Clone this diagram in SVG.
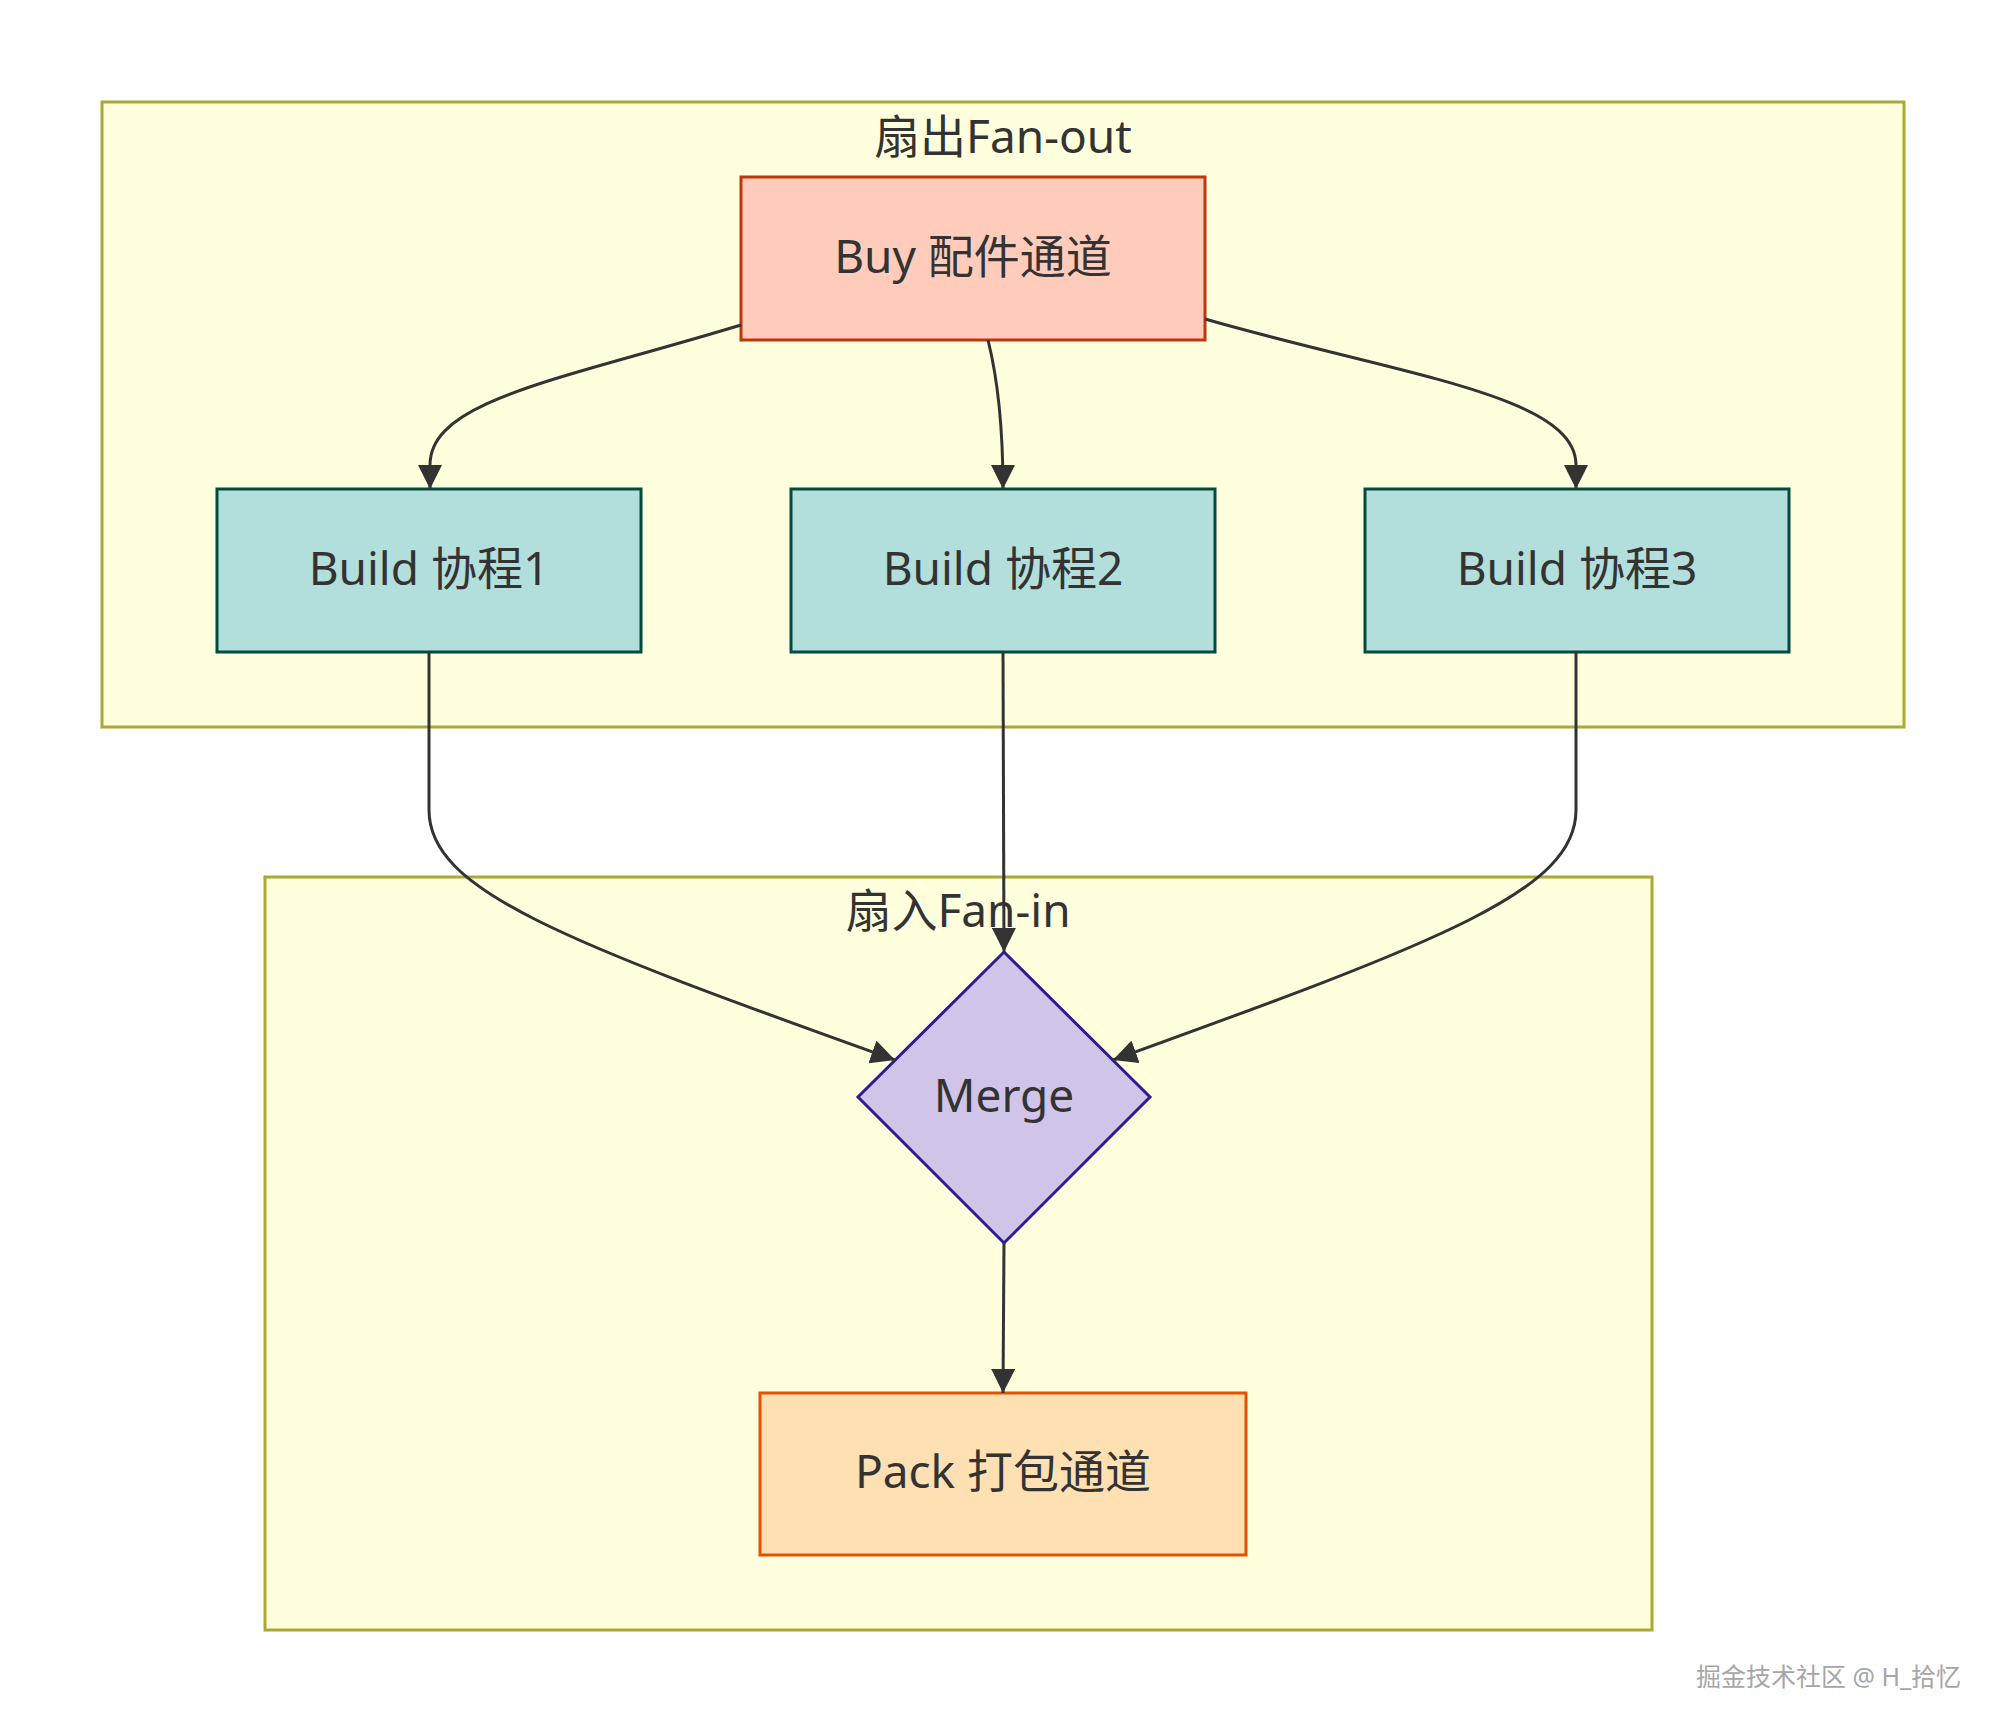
<svg xmlns="http://www.w3.org/2000/svg" width="2006" height="1732" viewBox="0 0 2006 1732">
<style>
.cluster{fill:#ffffde;stroke:#aaaa33;stroke-width:3}
.lbl{font-family:"Noto Sans","Noto Sans CJK SC",sans-serif;font-size:46px;fill:#333;text-anchor:middle}
.edge{fill:none;stroke:#333;stroke-width:3}
.buy{fill:#ffccbc;stroke:#bf360c;stroke-width:3}
.build{fill:#b2dfdb;stroke:#004d40;stroke-width:3}
.merge{fill:#d1c4e9;stroke:#311b92;stroke-width:3}
.pack{fill:#ffe0b2;stroke:#e65100;stroke-width:3}
.wm{font-family:"Noto Sans","Noto Sans CJK SC",sans-serif;font-size:25px;fill:#a6a6a6;stroke:#ffffff;stroke-width:0.6;paint-order:stroke}
</style>
<defs>
<marker id="arrow" viewBox="0 0 10 10" refX="10" refY="5" markerUnits="userSpaceOnUse" markerWidth="24" markerHeight="24" orient="auto">
<path d="M0,0 L10,5 L0,10 z" fill="#333"/>
</marker>
</defs>
<rect width="2006" height="1732" fill="#ffffff"/>
<g id="fanout">
<rect class="cluster" x="102" y="102" width="1802" height="625"/>
<text class="lbl" x="1003" y="153">扇出Fan-out</text>
</g>
<g id="fanin">
<rect class="cluster" x="265" y="877" width="1387" height="753"/>
<text class="lbl" x="958" y="927">扇入Fan-in</text>
</g>
<g id="buy">
<rect class="buy" x="741" y="177" width="464" height="163"/>
<text class="lbl" x="973" y="273">Buy 配件通道</text>
</g>
<g id="build1">
<rect class="build" x="217" y="489" width="424" height="163"/>
<text class="lbl" x="429" y="585">Build 协程1</text>
</g>
<g id="build2">
<rect class="build" x="791" y="489" width="424" height="163"/>
<text class="lbl" x="1003" y="585">Build 协程2</text>
</g>
<g id="build3">
<rect class="build" x="1365" y="489" width="424" height="163"/>
<text class="lbl" x="1577" y="585">Build 协程3</text>
</g>
<g id="merge">
<polygon class="merge" points="1004,952 1150,1097 1004,1243 858,1097"/>
<text class="lbl" x="1004" y="1112">Merge</text>
</g>
<g id="pack">
<rect class="pack" x="760" y="1393" width="486" height="162"/>
<text class="lbl" x="1003" y="1488">Pack 打包通道</text>
</g>
<g id="edges">
<path class="edge" marker-end="url(#arrow)" d="M741,325 C560,380 430,400 430,465 L430,489"/>
<path class="edge" marker-end="url(#arrow)" d="M988,340 Q1003,400 1003,489"/>
<path class="edge" marker-end="url(#arrow)" d="M1205,319 C1400,375 1576,395 1576,465 L1576,489"/>
<path class="edge" marker-end="url(#arrow)" d="M429,652 L429,810 C429,890 560,940 895,1060"/>
<path class="edge" marker-end="url(#arrow)" d="M1003,652 L1004,952"/>
<path class="edge" marker-end="url(#arrow)" d="M1576,652 L1576,810 C1576,890 1445,940 1113,1060"/>
<path class="edge" marker-end="url(#arrow)" d="M1004,1243 L1003,1393"/>
</g>
<text class="wm" x="1696" y="1686">掘金技术社区 @ H_拾忆</text>
</svg>
